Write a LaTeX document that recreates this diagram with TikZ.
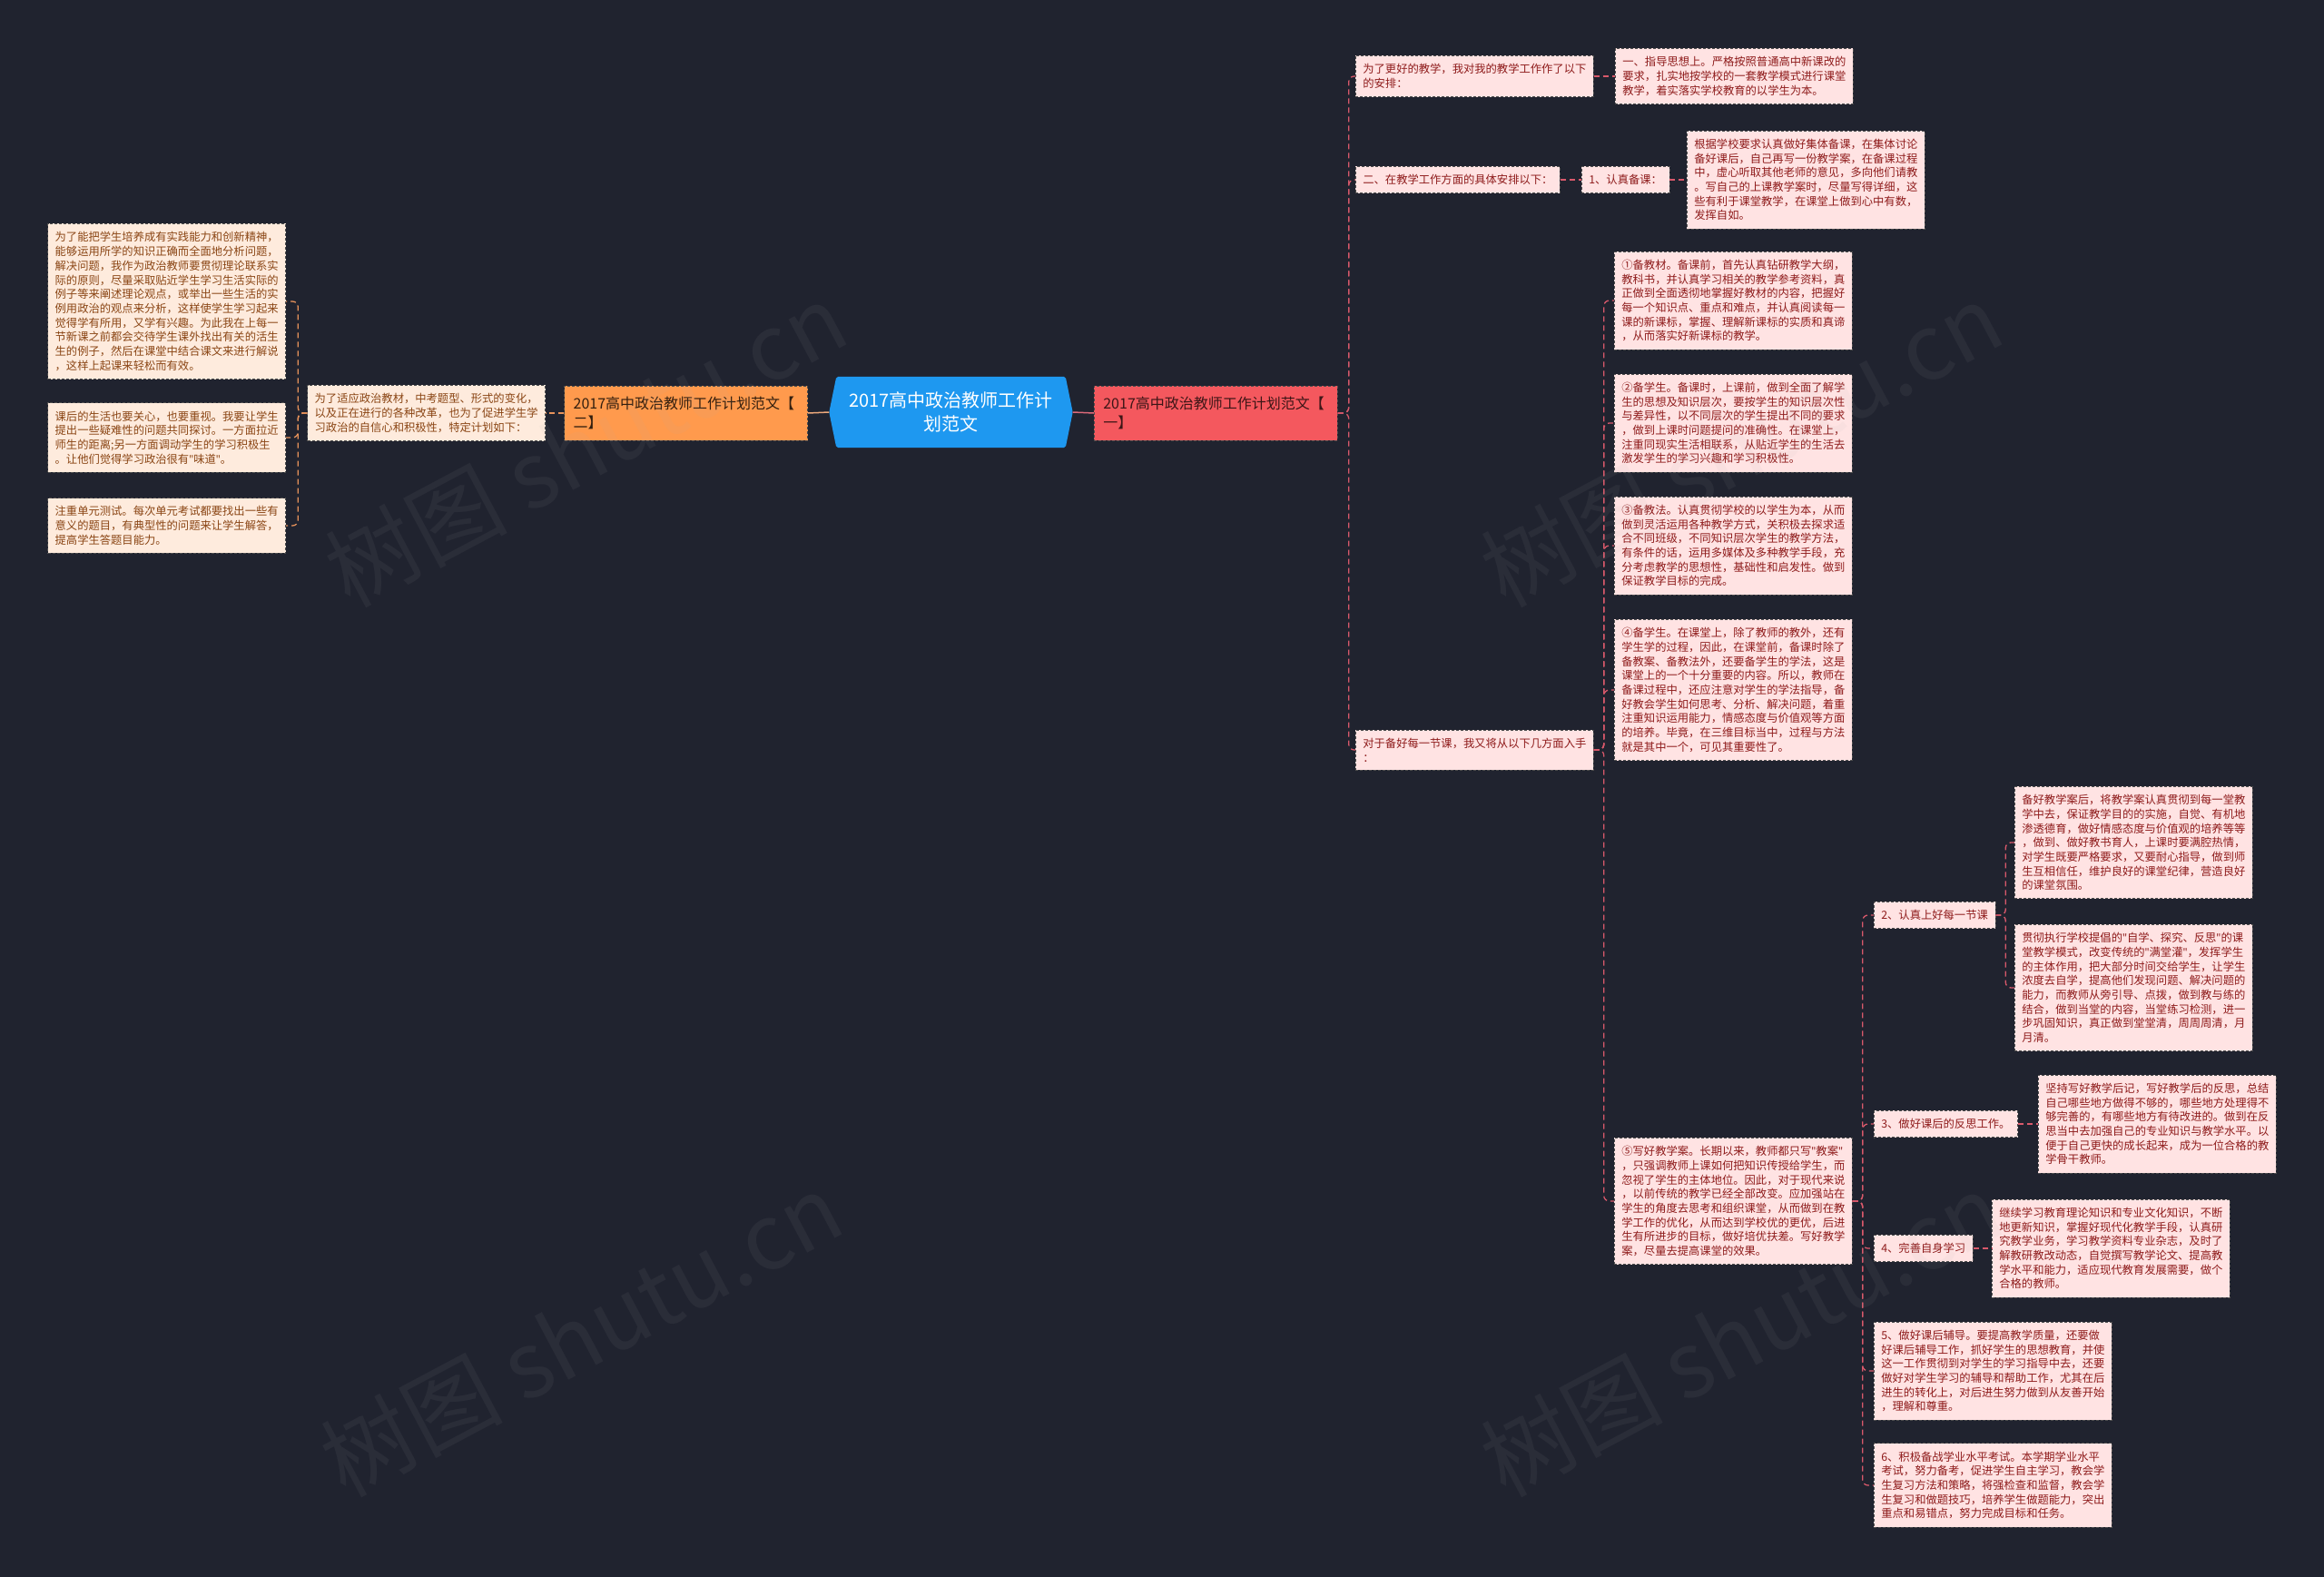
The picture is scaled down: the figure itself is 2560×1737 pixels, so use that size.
\documentclass[tikz,border=0pt]{standalone}
\usepackage{fontspec}
\setmainfont{Noto Sans CJK SC}
\newfontfamily\latinq{Noto Sans}
\newcommand{\qq}{{\latinq"}}
\usetikzlibrary{calc}
\definecolor{bgc}{HTML}{20232F}
\definecolor{lfill}{HTML}{FEEBDD}
\definecolor{ltext}{HTML}{8A4514}
\definecolor{rfill}{HTML}{FFE3E3}
\definecolor{rtext}{HTML}{8E1B1B}
\definecolor{bord}{HTML}{4D4D4D}
\definecolor{lcol}{HTML}{E8935B}
\definecolor{rcol}{HTML}{D9596B}
\definecolor{orangec}{HTML}{FF9A4D}
\definecolor{redc}{HTML}{F4585E}
\definecolor{bluec}{HTML}{1E98F0}
\pgfdeclarelayer{bglayer}
\pgfdeclarelayer{backlayer}
\pgfsetlayers{bglayer,backlayer,main}
\tikzset{
  basebox/.style={draw=bord, dash pattern=on 3pt off 2pt, line width=0.7pt, align=left,
    inner xsep=8pt, inner ysep=9pt, font=\fontsize{12.3}{15.7}\selectfont},
  lbox/.style={basebox, fill=lfill, text=ltext},
  rbox/.style={basebox, fill=rfill, text=rtext},
  lline/.style={draw=lcol, dash pattern=on 6pt off 4pt, line width=1.3pt, rounded corners=6pt},
  rline/.style={draw=rcol, dash pattern=on 6pt off 4pt, line width=1.3pt, rounded corners=6pt},
  midbox/.style={draw=bord, dash pattern=on 3pt off 2pt, line width=0.7pt, align=left,
    text width=248pt, minimum height=60pt, inner xsep=10pt, font=\fontsize{16}{21}\selectfont},
  cnode/.style={minimum width=252pt, minimum height=78pt, inner sep=0pt, align=center,
    text=white, font=\fontsize{20}{26}\selectfont},
  wmark/.style={rotate=28, text=gray!60, opacity=0.07, font=\fontsize{100}{100}\selectfont}
}
\begin{document}
\begin{tikzpicture}[x=1pt,y=-1pt]
\begin{pgfonlayer}{bglayer}
\fill[bgc] (0,0) rectangle (2560,1737);
\end{pgfonlayer}
\useasboundingbox (0,0) rectangle (2560,1737);

% center
\node[cnode] (c) at (1047.5,454) {2017高中政治教师工作计\\划范文};
\begin{pgfonlayer}{backlayer}
\fill[bluec, rounded corners=2pt] (c.north west) -- (c.north east) -- ($(c.east)+(8,0)$) -- (c.south east) -- (c.south west) -- ($(c.west)+(-8,0)$) -- cycle;
\end{pgfonlayer}
\coordinate (cL) at ($(c.west)+(-8,0)$);
\coordinate (cR) at ($(c.east)+(8,0)$);

% level 1
\node[midbox, fill=orangec, text=black!80!orangec, anchor=east] (o) at (890,455) {2017高中政治教师工作计划范文【\\二】};
\node[midbox, fill=redc, text=black!75!redc, anchor=west] (r) at (1205,455) {2017高中政治教师工作计划范文【\\一】};

% left branch
\node[lbox, anchor=east] (ln) at (601,455) {为了适应政治教材，中考题型、形式的变化，\\以及正在进行的各种改革，也为了促进学生学\\习政治的自信心和积极性，特定计划如下：};
\node[lbox, anchor=east] (l1) at (315,332) {为了能把学生培养成有实践能力和创新精神，\\能够运用所学的知识正确而全面地分析问题，\\解决问题，我作为政治教师要贯彻理论联系实\\际的原则，尽量采取贴近学生学习生活实际的\\例子等来阐述理论观点，或举出一些生活的实\\例用政治的观点来分析，这样使学生学习起来\\觉得学有所用，又学有兴趣。为此我在上每一\\节新课之前都会交待学生课外找出有关的活生\\生的例子，然后在课堂中结合课文来进行解说\\，这样上起课来轻松而有效。};
\node[lbox, anchor=east] (l2) at (315,482) {课后的生活也要关心，也要重视。我要让学生\\提出一些疑难性的问题共同探讨。一方面拉近\\师生的距离;另一方面调动学生的学习积极生\\。让他们觉得学习政治很有\qq 味道\qq 。};
\node[lbox, anchor=east] (l3) at (315,579) {注重单元测试。每次单元考试都要找出一些有\\意义的题目，有典型性的问题来让学生解答，\\提高学生答题目能力。};

% right branch level 2
\node[rbox, anchor=west] (r1) at (1493,84) {为了更好的教学，我对我的教学工作作了以下\\的安排：};
\node[rbox, anchor=west] (r1c) at (1779,84) {一、指导思想上。严格按照普通高中新课改的\\要求，扎实地按学校的一套教学模式进行课堂\\教学，着实落实学校教育的以学生为本。};
\node[rbox, anchor=west] (r2) at (1493,198) {二、在教学工作方面的具体安排以下：};
\node[rbox, anchor=west] (r2a) at (1742,198) {1、认真备课：};
\node[rbox, anchor=west] (r2b) at (1858,198) {根据学校要求认真做好集体备课，在集体讨论\\备好课后，自己再写一份教学案，在备课过程\\中，虚心听取其他老师的意见，多向他们请教\\。写自己的上课教学案时，尽量写得详细，这\\些有利于课堂教学，在课堂上做到心中有数，\\发挥自如。};
\node[rbox, anchor=west] (r3) at (1493,826) {对于备好每一节课，我又将从以下几方面入手\\：};

% level 3 under r3
\node[rbox, anchor=west] (p1) at (1778,331) {①备教材。备课前，首先认真钻研教学大纲，\\教科书，并认真学习相关的教学参考资料，真\\正做到全面透彻地掌握好教材的内容，把握好\\每一个知识点、重点和难点，并认真阅读每一\\课的新课标，掌握、理解新课标的实质和真谛\\，从而落实好新课标的教学。};
\node[rbox, anchor=west] (p2) at (1778,466) {②备学生。备课时，上课前，做到全面了解学\\生的思想及知识层次，要按学生的知识层次性\\与差异性，以不同层次的学生提出不同的要求\\，做到上课时问题提问的准确性。在课堂上，\\注重同现实生活相联系，从贴近学生的生活去\\激发学生的学习兴趣和学习积极性。};
\node[rbox, anchor=west] (p3) at (1778,601) {③备教法。认真贯彻学校的以学生为本，从而\\做到灵活运用各种教学方式，关积极去探求适\\合不同班级，不同知识层次学生的教学方法，\\有条件的话，运用多媒体及多种教学手段，充\\分考虑教学的思想性，基础性和启发性。做到\\保证教学目标的完成。};
\node[rbox, anchor=west] (p4) at (1778,760) {④备学生。在课堂上，除了教师的教外，还有\\学生学的过程，因此，在课堂前，备课时除了\\备教案、备教法外，还要备学生的学法，这是\\课堂上的一个十分重要的内容。所以，教师在\\备课过程中，还应注意对学生的学法指导，备\\好教会学生如何思考、分析、解决问题，着重\\注重知识运用能力，情感态度与价值观等方面\\的培养。毕竟，在三维目标当中，过程与方法\\就是其中一个，可见其重要性了。};
\node[rbox, anchor=west] (p5) at (1778,1323) {⑤写好教学案。长期以来，教师都只写\qq 教案\qq\\，只强调教师上课如何把知识传授给学生，而\\忽视了学生的主体地位。因此，对于现代来说\\，以前传统的教学已经全部改变。应加强站在\\学生的角度去思考和组织课堂，从而做到在教\\学工作的优化，从而达到学校优的更优，后进\\生有所进步的目标，做好培优扶差。写好教学\\案，尽量去提高课堂的效果。};

% level 4 under p5
\node[rbox, anchor=west] (q2) at (2064,1008) {2、认真上好每一节课};
\node[rbox, anchor=west] (q2a) at (2219,928) {备好教学案后，将教学案认真贯彻到每一堂教\\学中去，保证教学目的的实施，自觉、有机地\\渗透德育，做好情感态度与价值观的培养等等\\，做到、做好教书育人，上课时要满腔热情，\\对学生既要严格要求，又要耐心指导，做到师\\生互相信任，维护良好的课堂纪律，营造良好\\的课堂氛围。};
\node[rbox, anchor=west] (q2b) at (2219,1088) {贯彻执行学校提倡的\qq 自学、探究、反思\qq 的课\\堂教学模式，改变传统的\qq 满堂灌\qq ，发挥学生\\的主体作用，把大部分时间交给学生，让学生\\浓度去自学，提高他们发现问题、解决问题的\\能力，而教师从旁引导、点拨，做到教与练的\\结合，做到当堂的内容，当堂练习检测，进一\\步巩固知识，真正做到堂堂清，周周周清，月\\月清。};
\node[rbox, anchor=west] (q3) at (2064,1238) {3、做好课后的反思工作。};
\node[rbox, anchor=west] (q3a) at (2245,1238) {坚持写好教学后记，写好教学后的反思，总结\\自己哪些地方做得不够的，哪些地方处理得不\\够完善的，有哪些地方有待改进的。做到在反\\思当中去加强自己的专业知识与教学水平。以\\便于自己更快的成长起来，成为一位合格的教\\学骨干教师。};
\node[rbox, anchor=west] (q4) at (2064,1375) {4、完善自身学习};
\node[rbox, anchor=west] (q4a) at (2194,1375) {继续学习教育理论知识和专业文化知识，不断\\地更新知识，掌握好现代化教学手段，认真研\\究教学业务，学习教学资料专业杂志，及时了\\解教研教改动态，自觉撰写教学论文、提高教\\学水平和能力，适应现代教育发展需要，做个\\合格的教师。};
\node[rbox, anchor=west] (q5) at (2064,1510) {5、做好课后辅导。要提高教学质量，还要做\\好课后辅导工作，抓好学生的思想教育，并使\\这一工作贯彻到对学生的学习指导中去，还要\\做好对学生学习的辅导和帮助工作，尤其在后\\进生的转化上，对后进生努力做到从友善开始\\，理解和尊重。};
\node[rbox, anchor=west] (q6) at (2064,1636) {6、积极备战学业水平考试。本学期学业水平\\考试，努力备考，促进学生自主学习，教会学\\生复习方法和策略，将强检查和监督，教会学\\生复习和做题技巧，培养学生做题能力，突出\\重点和易错点，努力完成目标和任务。};

% connectors
\draw[draw=lcol!80!white, line width=1.5pt] (cL) -- (o.east);
\draw[draw=rcol!90!white, line width=1.5pt] (cR) -- (r.west);
\draw[lline] (o.west) -- (ln.east);
\foreach \t in {l1,l2,l3} \draw[lline] (ln.west) -- ++(-10,0) |- (\t.east);
\foreach \t in {r1,r2,r3} \draw[rline] (r.east) -- ++(12,0) |- (\t.west);
\draw[rline] (r1.east) -- (r1c.west);
\draw[rline] (r2.east) -- (r2a.west);
\draw[rline] (r2a.east) -- (r2b.west);
\foreach \t in {p1,p2,p3,p4,p5} \draw[rline] (r3.east) -- ++(11,0) |- (\t.west);
\foreach \t in {q2,q3,q4,q5,q6} \draw[rline] (p5.east) -- ++(11,0) |- (\t.west);
\foreach \t in {q2a,q2b} \draw[rline] (q2.east) -- ++(11,0) |- (\t.west);
\draw[rline] (q3.east) -- (q3a.west);
\draw[rline] (q4.east) -- (q4a.west);

% watermarks
\node[wmark] (w1) at (645,490) {树图 shutu.cn};
\node[wmark] (w2) at (1918,490) {树图 shutu.cn};
\node[wmark] (w3) at (640,1470) {树图 shutu.cn};
\node[wmark] (w4) at (1918,1470) {树图 shutu.cn};
\end{tikzpicture}
\end{document}
